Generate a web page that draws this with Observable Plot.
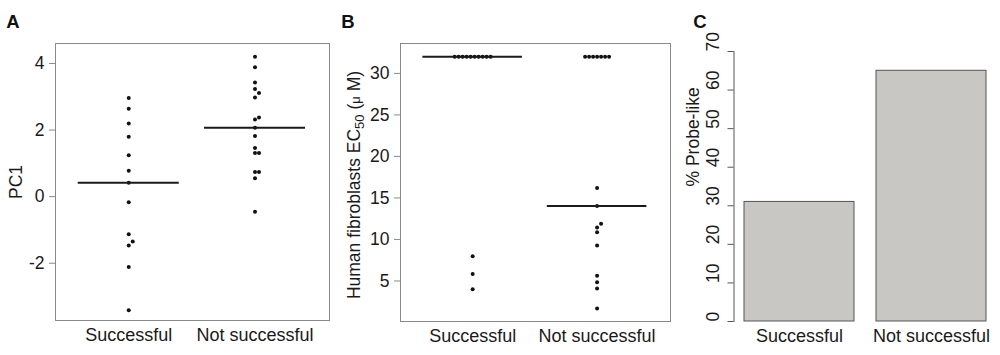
<!DOCTYPE html>
<html><head><meta charset="utf-8">
<script src="https://cdn.jsdelivr.net/npm/d3@7"></script>
<script src="https://cdn.jsdelivr.net/npm/@observablehq/plot@0.6"></script>
<style>
body{margin:0;background:#fff;}
#fig{position:relative;width:1000px;height:355px;font-family:"Liberation Sans",Arial,Helvetica,sans-serif;color:#1a1a1a;}
#fig svg{position:absolute;top:0;overflow:visible;font-family:"Liberation Sans",Arial,Helvetica,sans-serif;}
</style></head><body><div id="fig"></div>
<script>
// ---- data ----
const groups = ["Successful", "Not successful"];
const pc1Successful = [2.96, 2.64, 2.20, 1.80, 1.24, 0.78, 0.42, -0.17, -1.13, -1.35, -1.47, -2.11, -3.41];
const pc1NotSuccessful = [4.20, 3.89, 3.43, 3.23, 3.11, 2.98, 2.38, 2.32, 2.07, 1.82, 1.46, 1.31, 1.31, 0.74, 0.74, 0.55, -0.45];
const ec50Successful = [32, 32, 32, 32, 32, 32, 32, 32, 32, 32, 7.97, 5.84, 4.00];
const ec50NotSuccessful = [32, 32, 32, 32, 32, 32, 32, 16.2, 14.04, 11.88, 11.44, 10.88, 9.28, 5.64, 4.84, 4.08, 1.68];
const probeLikePct = [31, 65];
const pc1Ticks = [-2, 0, 2, 4];
const ec50Ticks = [5, 10, 15, 20, 25, 30];
const pctTicks = [0, 10, 20, 30, 40, 50, 60, 70];

const FONT = "'Liberation Sans', Arial, Helvetica, sans-serif";
const FS = 17.5;
const fig = document.getElementById("fig");

// stack near-tied values sideways (like R stripchart "stack")
function stackGroup(values, gi, eps, step) {
  const pts = values.map(v => ({v})).sort((a, b) => a.v - b.v);
  const placed = [];
  for (const p of pts) {
    let k = 0;
    while (placed.some(q => q.k === k && Math.abs(q.v - p.v) < eps)) k++;
    p.k = k; placed.push(p);
  }
  for (const [, arr] of d3.group(placed, d => d.v)) {
    if (arr.length >= 3) { const m = d3.max(arr, d => d.k); arr.forEach(d => d.k -= m / 2); }
  }
  return placed.map(p => ({group: groups[gi], gi: gi + 1, value: p.v, x: gi + 1 + p.k * step}));
}

function stripPanel(opts) {
  const {left, width, mL, mR, mT, mB, yDomain, ticks, series, eps, letter, letterX} = opts;
  const xDomain = [0.42, 2.59];
  const step = 4 * (xDomain[1] - xDomain[0]) / (width - mL - mR);
  const pts = series.flatMap((vals, i) => stackGroup(vals, i, eps, step));
  const meds = series.map((vals, i) => ({gi: i + 1, value: d3.median(vals)}));
  const svg = Plot.plot({
    width, height: 355,
    marginLeft: mL, marginRight: mR, marginTop: mT, marginBottom: mB,
    style: {fontFamily: FONT, background: "transparent", color: "#1a1a1a"},
    x: {domain: xDomain},
    y: {domain: yDomain},
    marks: [
      Plot.frame({stroke: "#8a8a8a", strokeWidth: 1}),
      Plot.axisY(ticks, {tickSize: 6, tickPadding: 5, stroke: "#8a8a8a", fill: "#1a1a1a", fontSize: FS, tickFormat: d => String(d), label: null}),
      Plot.axisX([1, 2], {tickSize: 0, tickPadding: 8, fontSize: 18, fill: "#1a1a1a", tickFormat: d => groups[d - 1], label: null}),
      Plot.dot(pts, {x: "x", y: "value", r: 2, fill: "#111", stroke: null}),
      Plot.ruleY(meds, {y: "value", x1: d => d.gi - 0.4, x2: d => d.gi + 0.4, stroke: "#1a1a1a", strokeWidth: 2})
    ]
  });
  svg.style.left = left + "px";
  d3.select(svg).append("text").attr("x", letterX).attr("y", 28)
    .attr("font-size", 18.5).attr("font-weight", "bold").attr("fill", "#111").text(letter);
  fig.appendChild(svg);
  return svg;
}

// Panel A
const svgA = stripPanel({left: 0, width: 335, mL: 55, mR: 6, mT: 43, mB: 35,
  yDomain: [-3.72, 4.6], ticks: pc1Ticks, series: [pc1Successful, pc1NotSuccessful],
  eps: 0.14, letter: "A", letterX: 13});
d3.select(svgA).append("text").attr("transform", "translate(21.5,182) rotate(-90)")
  .attr("text-anchor", "middle").attr("font-size", FS).attr("fill", "#1a1a1a").text("PC1");

// Panel B
const svgB = stripPanel({left: 335, width: 340, mL: 65, mR: 5, mT: 43, mB: 34,
  yDomain: [0.12, 33.6], ticks: ec50Ticks, series: [ec50Successful, ec50NotSuccessful],
  eps: 0.5, letter: "B", letterX: 13});
const tB = d3.select(svgB).append("text").attr("transform", "translate(24.5,185) rotate(-90)")
  .attr("text-anchor", "middle").attr("font-size", FS).attr("fill", "#1a1a1a");
tB.append("tspan").text("Human fibroblasts EC");
tB.append("tspan").attr("font-size", 13).attr("dy", 4).text("50");
tB.append("tspan").attr("dy", -4).text(" (");
tB.append("tspan").attr("font-size", 13).text("μ");
tB.append("tspan").text(" M)");

// Panel C
const barData = groups.map((g, i) => ({group: g, pct: probeLikePct[i]}));
const svgC = Plot.plot({
  width: 325, height: 355,
  marginLeft: 58.5, marginRight: 3.5, marginTop: 51, marginBottom: 34,
  style: {fontFamily: FONT, background: "transparent", color: "#1a1a1a"},
  x: {type: "band", domain: groups, paddingInner: 0.1667, paddingOuter: 0.073},
  y: {domain: [0, 70]},
  marks: [
    Plot.barY(barData, {x: "group", y: "pct", fill: "#c8c7c3", stroke: "#555", strokeWidth: 1}),
    Plot.axisY(pctTicks, {tickSize: 6, tickPadding: 0, stroke: "#555", tickFormat: () => "", label: null}),
    Plot.frame({anchor: "left", stroke: "#555"}),
    Plot.text(pctTicks, {y: d => d, frameAnchor: "left", dx: -21, rotate: -90, text: d => String(d), fontSize: FS, fill: "#1a1a1a"}),
    Plot.text(["% Probe-like"], {frameAnchor: "left", dx: -40.5, dy: 0, rotate: -90, fontSize: FS, fill: "#1a1a1a"}),
    Plot.axisX({tickSize: 0, tickPadding: 8, fontSize: 18, fill: "#1a1a1a", label: null})
  ]
});
svgC.style.left = "675px";
d3.select(svgC).append("text").attr("x", 25).attr("y", 28)
  .attr("font-size", 18.5).attr("font-weight", "bold").attr("fill", "#111").text("C");
fig.appendChild(svgC);
</script></body></html>
